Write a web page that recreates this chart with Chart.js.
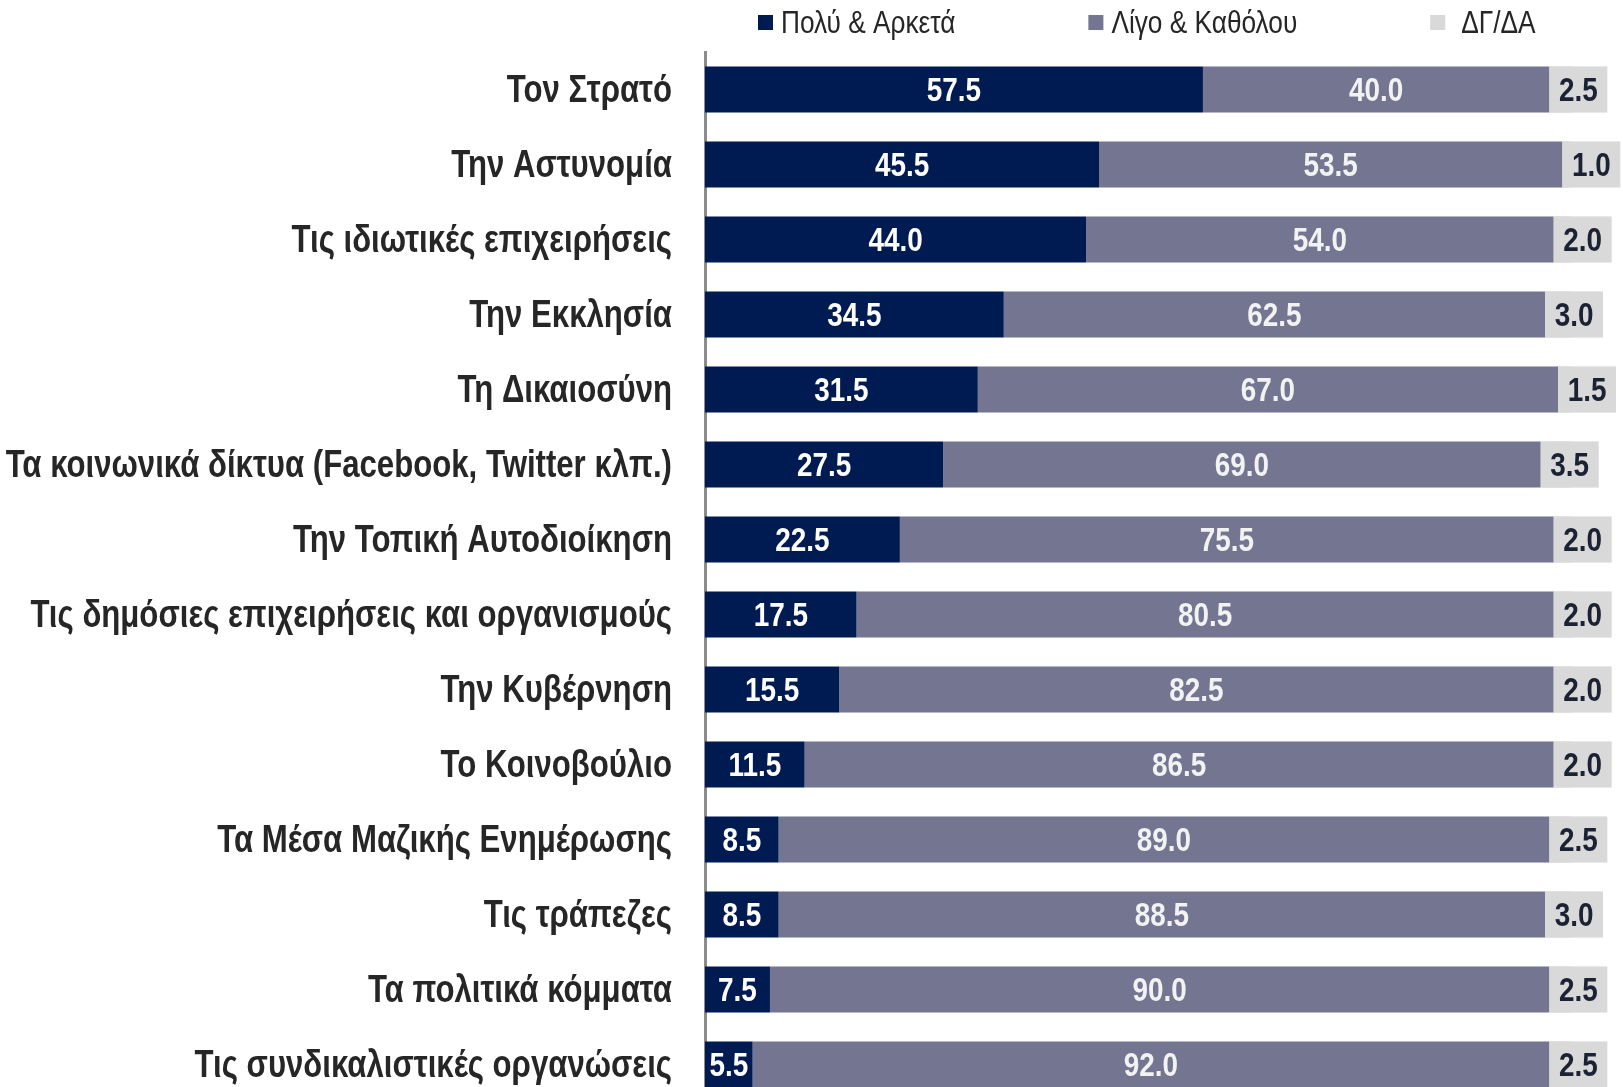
<!DOCTYPE html>
<html>
<head>
<meta charset="utf-8">
<script src="https://cdn.jsdelivr.net/npm/chart.js@4.4.1/dist/chart.umd.min.js"></script>
<style>
  html, body { margin: 0; padding: 0; background: #fff; overflow: hidden; }
  #wrap { width: 1623px; height: 1087px; overflow: hidden; }
  #box { position: relative; width: 1623px; height: 1105px; }
</style>
</head>
<body>
<div id="wrap">
  <div id="box"><canvas id="myChart"></canvas></div>
</div>
<script>
const categories = [
  'Τον Στρατό',
  'Την Αστυνομία',
  'Τις ιδιωτικές επιχειρήσεις',
  'Την Εκκλησία',
  'Τη Δικαιοσύνη',
  'Τα κοινωνικά δίκτυα (Facebook, Twitter κλπ.)',
  'Την Τοπική Αυτοδιοίκηση',
  'Τις δημόσιες επιχειρήσεις και οργανισμούς',
  'Την Κυβέρνηση',
  'Το Κοινοβούλιο',
  'Τα Μέσα Μαζικής Ενημέρωσης',
  'Τις τράπεζες',
  'Τα πολιτικά κόμματα',
  'Τις συνδικαλιστικές οργανώσεις'
];
const seriesNames = ['Πολύ & Αρκετά', 'Λίγο & Καθόλου', 'ΔΓ/ΔΑ'];
const polyArketa = [57.5, 45.5, 44.0, 34.5, 31.5, 27.5, 22.5, 17.5, 15.5, 11.5, 8.5, 8.5, 7.5, 5.5];
const ligoKatholou = [40.0, 53.5, 54.0, 62.5, 67.0, 69.0, 75.5, 80.5, 82.5, 86.5, 89.0, 88.5, 90.0, 92.0];
const dgda = [2.5, 1.0, 2.0, 3.0, 1.5, 3.5, 2.0, 2.0, 2.0, 2.0, 2.5, 3.0, 2.5, 2.5];

const NAVY = '#001a52';
const GREY = '#737591';
const LIGHT = '#d9d9d9';
const FONT = "'Liberation Sans', Arial, sans-serif";
const NARROW = 0.82; // squeeze Liberation Sans to look like Arial Narrow

Chart.defaults.font.family = FONT;

// draw text squeezed horizontally
function narrowText(c, txt, x, y) {
  c.save();
  c.translate(x, y);
  c.scale(NARROW, 1);
  c.fillText(txt, 0, 0);
  c.restore();
}

// values written on the bars
const barLabels = {
  id: 'barLabels',
  afterDatasetsDraw(chart) {
    const c = chart.ctx;
    c.save();
    c.textAlign = 'center';
    c.textBaseline = 'middle';
    c.font = 'bold 34px ' + FONT;
    chart.data.datasets.forEach((ds, di) => {
      const meta = chart.getDatasetMeta(di);
      meta.data.forEach((bar, i) => {
        const p = bar.getProps(['x', 'y', 'base', 'height'], true);
        const txt = ds.data[i].toFixed(1);
        if (di === 2) {
          const w = 58;
          c.fillStyle = LIGHT;
          c.fillRect(p.base, p.y - p.height / 2, w, p.height);
          c.fillStyle = '#1b2233';
          narrowText(c, txt, p.base + w / 2, p.y + 2);
        } else {
          c.fillStyle = di === 0 ? '#ffffff' : '#f2f2f2';
          narrowText(c, txt, (p.x + p.base) / 2, p.y + 2);
        }
      });
    });
    c.restore();
  }
};

// category names + legend on top
const textBits = {
  id: 'textBits',
  afterDraw(chart) {
    const c = chart.ctx;
    const area = chart.chartArea;
    const yScale = chart.scales.y;
    c.save();
    c.fillStyle = '#262626';
    c.font = 'bold 38px ' + FONT;
    c.textAlign = 'right';
    c.textBaseline = 'middle';
    chart.data.labels.forEach((lab, i) => {
      narrowText(c, lab, area.left - 33, yScale.getPixelForTick(i) + 2);
    });

    c.font = '32px ' + FONT;
    c.textAlign = 'left';
    let x = area.left + 53;
    const y = 23;
    chart.data.datasets.forEach((ds, di) => {
      c.fillStyle = ds.backgroundColor;
      c.fillRect(x, y - 8, 15, 15);
      c.fillStyle = '#262626';
      const gap = di === 2 ? 31 : 23;
      narrowText(c, ds.label, x + gap, y + 1);
      x += gap + c.measureText(ds.label).width * NARROW + 133;
    });
    c.restore();
  }
};

const ctx = document.getElementById('myChart');

const myChart = new Chart(ctx, {
  type: 'bar',
  data: {
    labels: categories,
    datasets: [
      { label: seriesNames[0], data: polyArketa, backgroundColor: NAVY },
      { label: seriesNames[1], data: ligoKatholou, backgroundColor: GREY },
      { label: seriesNames[2], data: dgda, backgroundColor: LIGHT }
    ]
  },
  options: {
    indexAxis: 'y',
    responsive: true,
    maintainAspectRatio: false,
    animation: false,
    layout: { padding: { top: 52, right: 52, bottom: 3, left: 0 } },
    datasets: {
      bar: { categoryPercentage: 1, barPercentage: 0.615 }
    },
    plugins: {
      legend: { display: false },
      tooltip: { enabled: false }
    },
    scales: {
      x: {
        stacked: true,
        min: 0,
        max: 100,
        display: false
      },
      y: {
        stacked: true,
        afterFit(scale) { scale.width = 705; },
        grid: { display: false, drawTicks: false },
        border: { display: true, color: '#8c8c8c', width: 3 },
        ticks: { display: false }
      }
    }
  },
  plugins: [barLabels, textBits]
});
</script>
</body>
</html>
